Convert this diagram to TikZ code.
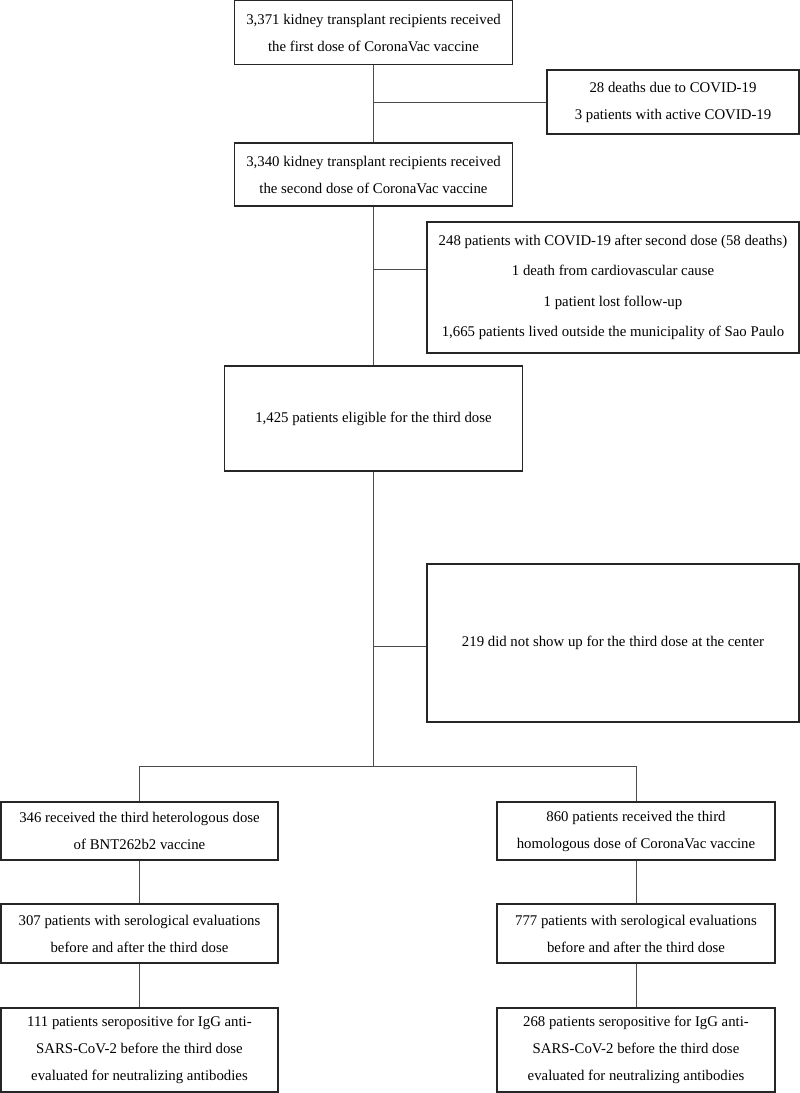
\documentclass[tikz,border=0pt]{standalone}
\usepackage{fontspec}
\setmainfont{Liberation Serif}
\begin{document}
\begin{tikzpicture}[x=1pt,y=-1pt,
  box/.style={draw=black!85,line width=1.1pt,rectangle,inner sep=2pt,align=center,
    font=\fontsize{14.8}{27}\selectfont},
  conn/.style={draw=black!70,line width=0.9pt}]
\useasboundingbox[fill=white] (0,0) rectangle (800,1093);
% main column
\node[box,minimum width=278pt,minimum height=64pt] (b1) at (373.5,32.5)
  {3,371 kidney transplant recipients received\\the first dose of CoronaVac vaccine};
\node[box,minimum width=252pt,minimum height=64pt] (s1) at (673,102)
  {28 deaths due to COVID-19\\3 patients with active COVID-19};
\node[box,minimum width=278pt,minimum height=63pt] (b2) at (373.5,174.5)
  {3,340 kidney transplant recipients received\\the second dose of CoronaVac vaccine};
\node[box,minimum width=372pt,minimum height=131pt,font=\fontsize{14.8}{30.3}\selectfont] (s2) at (613,287.5)
  {248 patients with COVID-19 after second dose (58 deaths)\\1 death from cardiovascular cause\\1 patient lost follow-up\\1,665 patients lived outside the municipality of Sao Paulo};
\node[box,minimum width=298pt,minimum height=105pt] (b3) at (373.5,418.5)
  {1,425 patients eligible for the third dose};
\node[box,minimum width=372pt,minimum height=158pt] (s3) at (613,643)
  {219 did not show up for the third dose at the center};
% branches
\node[box,minimum width=277pt,minimum height=58pt] (l1) at (139.5,831)
  {346 received the third heterologous dose\\of BNT262b2 vaccine};
\node[box,minimum width=278pt,minimum height=58pt] (r1) at (636,831)
  {860 patients received the third\\homologous dose of CoronaVac vaccine};
\node[box,minimum width=277pt,minimum height=59pt] (l2) at (139.5,933.5)
  {307 patients with serological evaluations\\before and after the third dose};
\node[box,minimum width=278pt,minimum height=59pt] (r2) at (636,933.5)
  {777 patients with serological evaluations\\before and after the third dose};
\node[box,minimum width=277pt,minimum height=84pt] (l3) at (139.5,1050)
  {111 patients seropositive for IgG anti-\\SARS-CoV-2 before the third dose\\evaluated for neutralizing antibodies};
\node[box,minimum width=278pt,minimum height=84pt] (r3) at (636,1050)
  {268 patients seropositive for IgG anti-\\SARS-CoV-2 before the third dose\\evaluated for neutralizing antibodies};
% junctions
\coordinate (j1) at (b1.south |- 0,102);
\coordinate (j2) at (b2.south |- 0,269);
\coordinate (j3) at (b3.south |- 0,646);
\coordinate (sp) at (b3.south |- 0,766);
\coordinate (spl) at (l1.north |- sp);
\coordinate (spr) at (r1.north |- sp);
% connectors
\draw[conn] (b1.south) -- (b2.north);
\draw[conn] (j1) -- (j1 -| s1.west);
\draw[conn] (b2.south) -- (b3.north);
\draw[conn] (j2) -- (j2 -| s2.west);
\draw[conn] (b3.south) -- (sp);
\draw[conn] (j3) -- (j3 -| s3.west);
\draw[conn] (spl) -- (spr);
\draw[conn] (spl) -- (l1.north);
\draw[conn] (spr) -- (r1.north);
\draw[conn] (l1) -- (l2);
\draw[conn] (l2) -- (l3);
\draw[conn] (r1) -- (r2);
\draw[conn] (r2) -- (r3);
\end{tikzpicture}
\end{document}
